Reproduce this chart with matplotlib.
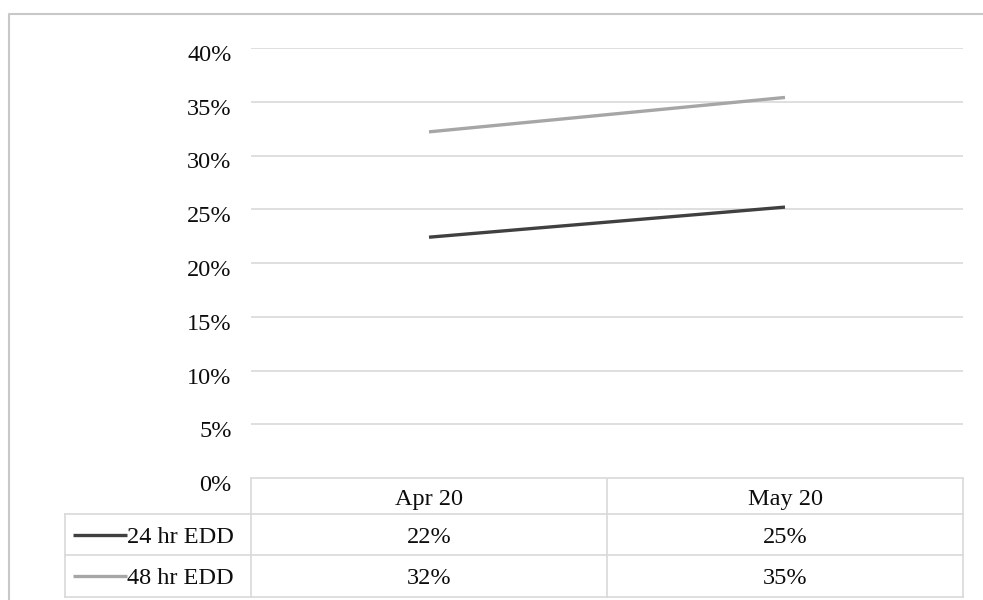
import matplotlib.pyplot as plt
import matplotlib.transforms as mtransforms
from matplotlib.ticker import PercentFormatter

plt.rcParams['font.family'] = ['Liberation Serif', 'DejaVu Serif']

# monthly share for each EDD window
months = ["Apr 20", "May 20"]
series_names = ["24 hr EDD", "48 hr EDD"]
edd_24 = [0.224, 0.252]
edd_48 = [0.322, 0.354]
series_values = [edd_24, edd_48]
series_colors = ["#404040", "#a6a6a6"]
y_ticks = [0, 0.05, 0.10, 0.15, 0.20, 0.25, 0.30, 0.35, 0.40]

W, H = 983, 600
FS = 17.5
TXT = "#0d0d0d"
fig = plt.figure(figsize=(W / 100, H / 100), dpi=100)

# pixel layout of the plot area and the data table under it
plot_l, plot_r, plot_t, plot_b = 251, 963, 48, 478
tab_l = 65
row_edges = [478, 514, 555, 597]
txt_dy = 3  # digits sit a little low in the cells

ax = fig.add_axes([plot_l / W, 1 - plot_b / H, (plot_r - plot_l) / W, (plot_b - plot_t) / H])
x = list(range(len(months)))
for vals, col in zip(series_values, series_colors):
    ax.plot(x, vals, color=col, lw=2.4, solid_capstyle="butt")

ax.set_xlim(-0.5, len(months) - 0.5)
ax.set_ylim(0, 0.40)
ax.set_yticks(y_ticks)
ax.yaxis.set_major_formatter(PercentFormatter(1.0, decimals=0))
ax.set_xticks([])
ax.grid(axis="y", color="#d9d9d9", lw=1.2)
ax.set_axisbelow(True)
for s in ax.spines.values():
    s.set_visible(False)
ax.tick_params(axis="y", length=0, pad=14, labelsize=FS, labelcolor=TXT)
shift = mtransforms.ScaledTranslation(0, -0.05, fig.dpi_scale_trans)
for lab in ax.get_yticklabels():
    lab.set_transform(lab.get_transform() + shift)

# overlay in pixel coordinates for the table and the outer frame
ov = fig.add_axes([0, 0, 1, 1], zorder=-1)
ov.set_xlim(0, W)
ov.set_ylim(H, 0)
ov.axis("off")

edge = "#d9d9d9"
col_edges = [plot_l] + [plot_l + (plot_r - plot_l) * (i + 1) / len(months) for i in range(len(months))]

# header row spans only the data columns
ov.plot([plot_l, plot_r], [row_edges[0], row_edges[0]], color=edge, lw=1.2)
for r in row_edges[1:]:
    ov.plot([tab_l, plot_r], [r, r], color=edge, lw=1.2)
ov.plot([tab_l, tab_l], [row_edges[1], row_edges[-1]], color=edge, lw=1.2)
for c in col_edges:
    ov.plot([c, c], [row_edges[0], row_edges[-1]], color=edge, lw=1.2)

for i, m in enumerate(months):
    cx = (col_edges[i] + col_edges[i + 1]) / 2
    cy = (row_edges[0] + row_edges[1]) / 2 + txt_dy
    ov.text(cx, cy, m, ha="center", va="center", fontsize=FS, color=TXT)

for j, (name, vals, col) in enumerate(zip(series_names, series_values, series_colors)):
    cy = (row_edges[j + 1] + row_edges[j + 2]) / 2
    ov.plot([73, 127], [cy, cy], color=col, lw=2.4, solid_capstyle="butt")
    ov.text(127, cy + txt_dy, name, ha="left", va="center", fontsize=FS, color=TXT)
    for i, v in enumerate(vals):
        cx = (col_edges[i] + col_edges[i + 1]) / 2
        ov.text(cx, cy + txt_dy, f"{v * 100:.0f}%", ha="center", va="center", fontsize=FS, color=TXT)

# chart area border
ov.plot([8.5, 8.5, W], [H, 14, 14], color="#c8c8c8", lw=1.5)

fig.savefig("out.png", dpi=100)
